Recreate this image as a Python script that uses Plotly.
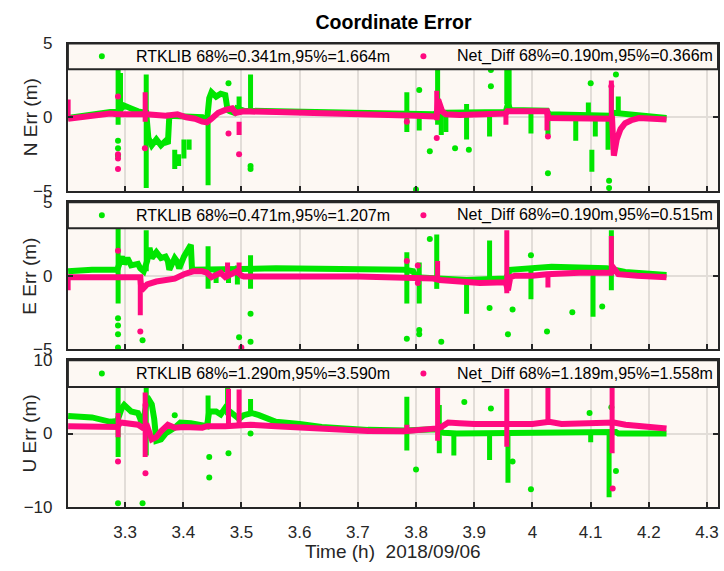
import plotly.graph_objects as go

# ---------------------------------------------------------------------------
# Data: time in hours (2018/09/06), errors in metres.
# Each solution has: a continuous track (t, value), vertical bursts of
# consecutive epochs (t, low, high) and isolated epochs (t, value).
# ---------------------------------------------------------------------------

# ================= North =================
n_rtk_t = [3.2021, 3.2431, 3.2747, 3.2880, 3.2984, 3.3103, 3.3221, 3.3363, 3.3400, 3.3458,
           3.3537, 3.3616, 3.3695, 3.3735, 3.3760, 3.4327, 3.4406, 3.4446, 3.4485, 3.4564,
           3.4643, 3.4722, 3.4761, 3.4800, 3.4880, 3.4919, 3.5038, 3.5600, 3.6400, 3.7200,
           3.7800, 3.8300, 3.8400, 3.8500, 3.9540, 3.9580, 3.9620, 4.0250, 4.0280, 4.1350,
           4.1400, 4.1900, 4.2305]
n_rtk_v = [-0.05, 0.20, 0.35, 0.35, 0.80, 0.60, 0.40, 0.30, -1.40, -1.90,
           -1.50, -1.90, -1.60, -1.80, 0.10, 0.00, -0.30, 1.30, 1.70, 1.40,
           1.60, 1.50, 0.50, 0.40, 0.30, 0.60, 0.45, 0.40, 0.35, 0.30,
           0.25, 0.20, 0.40, 0.30, 0.35, 0.90, 0.50, 0.45, 0.20, 0.10,
           0.30, 0.15, -0.05]
n_rtk_burst_t = [3.2880, 3.2921, 3.3363, 3.3853, 3.3920, 3.4011, 3.4100, 3.4426, 3.4959, 3.5156,
                 3.7842, 3.8055, 3.8371, 3.8434, 3.8513, 3.8869, 3.9264, 3.9560, 3.9600, 3.9975,
                 4.0267, 4.0745, 4.0962, 4.1022, 4.1081, 4.1300, 4.1357, 4.1476]
n_rtk_burst_lo = [-0.5, 0.3, -4.8, -3.5, -3.3, -2.8, -2.2, -4.6, 0.4, 0.45,
                  -1.0, -0.9, -0.5, -1.2, -1.0, -1.5, -1.3, 0.9, 0.5, -1.1,
                  -1.2, -1.6, -0.2, -3.7, -1.3, -2.2, 0.1, 0.3]
n_rtk_burst_hi = [4.0, 3.0, 2.9, -2.2, -2.5, -1.5, -1.5, -0.3, 1.4, 2.9,
                  1.7, 0.2, 4.0, 0.3, 0.3, 0.9, 0.3, 4.0, 3.5, 0.5,
                  0.45, 0.2, 1.0, -2.2, 0.1, 0.1, 2.0, 1.4]
n_rtk_dot_t = [3.2878, 3.2878, 3.2878, 3.4777, 3.5156, 3.5156, 3.8000, 3.8055, 3.8237,
               3.8671, 3.8908, 3.9287, 3.9287, 4.0267, 4.1002, 4.1318, 4.1318, 4.1436]
n_rtk_dot_v = [-1.6, -2.1, -2.6, 2.3, -3.3, -3.5, -4.9, 1.85, -2.3,
               -2.1, -2.2, 3.2, 2.1, -3.8, 2.3, -4.3, -4.8, 2.9]

n_net_t = [3.2021, 3.2431, 3.2747, 3.2866, 3.3100, 3.3340, 3.3370, 3.3695, 3.3900, 3.4050,
           3.4200, 3.4327, 3.4406, 3.4485, 3.4600, 3.4722, 3.4840, 3.4900, 3.5038, 3.5600,
           3.6400, 3.7200, 3.8000, 3.8356, 3.8380, 3.8450, 3.8513, 3.8750, 3.9200, 3.9540,
           3.9570, 4.0250, 4.0275, 4.0800, 4.1370, 4.1400, 4.1450, 4.1515, 4.1594, 4.1700,
           4.1831, 4.2305]
n_net_v = [-0.10, 0.10, 0.25, 0.20, 0.20, 0.30, 0.20, 0.10, 0.20, 0.00,
           -0.10, -0.30, -0.35, -0.10, 0.30, 0.50, 0.60, 0.30, 0.40, 0.35,
           0.30, 0.20, 0.10, 0.05, 1.20, 0.40, 0.20, 0.15, 0.20, 0.25,
           0.40, 0.40, -0.05, -0.05, -0.10, -2.60, -1.50, -0.80, -0.40, -0.20,
           -0.05, -0.15]
n_net_burst_t = [3.2021, 3.3345, 3.4959, 3.8356, 3.9545, 4.0251, 4.1357]
n_net_burst_lo = [-0.1, -0.3, -1.2, -0.2, -0.5, -0.9, -0.1]
n_net_burst_hi = [1.2, 1.7, -0.3, 1.8, 0.4, 0.4, 2.5]
n_net_dot_t = [3.2878, 3.2878, 3.2878, 3.2878, 3.3340, 3.4777, 3.4959,
               3.7842, 3.8356, 4.0267, 4.1357]
n_net_dot_v = [1.4, -2.5, -2.8, -3.5, -2.1, -1.1, -2.5,
               -0.3, -1.4, -1.3, 2.1]

# ================= East =================
e_rtk_t = [3.2021, 3.2431, 3.2866, 3.2945, 3.2984, 3.3040, 3.3103, 3.3221, 3.3261, 3.3320,
           3.3379, 3.3420, 3.3458, 3.3537, 3.3616, 3.3695, 3.3735, 3.3760, 3.3853, 3.3890,
           3.3930, 3.4011, 3.4130, 3.4150, 3.5591, 3.6381, 3.7171, 3.7803, 3.7950, 3.8000,
           3.8869, 3.9264, 3.9540, 3.9620, 3.9935, 4.0330, 4.1279, 4.1476, 4.1594, 4.2305]
e_rtk_v = [0.30, 0.40, 0.40, 1.30, 0.80, 1.20, 0.70, 0.80, 0.50, 0.30,
           1.00, 1.90, 1.20, 1.60, 1.20, 1.30, 1.00, 0.40, 1.20, 1.00,
           0.50, 1.30, 2.10, 0.40, 0.50, 0.50, 0.45, 0.40, 0.30, -0.10,
           -0.30, -0.20, -0.20, 0.40, 0.50, 0.60, 0.50, 0.30, 0.25, 0.05]
e_rtk_burst_t = [3.2880, 3.3363, 3.4426, 3.4564, 3.4777, 3.4930, 3.5156, 3.7842, 3.8055, 3.8356,
                 3.8869, 3.9264, 3.9975, 4.1042, 4.1357]
e_rtk_burst_lo = [-1.9, 0.3, -0.9, -0.5, -0.5, -0.6, -0.9, -1.9, -1.9, -0.9,
                  -2.6, -0.2, -1.6, -2.8, -1.0]
e_rtk_burst_hi = [3.2, 3.1, 2.0, 0.4, 0.6, 0.7, 1.4, 1.6, 0.9, 2.8,
                  -0.3, 2.4, 0.5, 0.5, 3.1]
e_rtk_dot_t = [3.2878, 3.2878, 3.2878, 3.2878, 3.3300, 3.4959, 3.5156, 3.5156, 3.7842,
               3.8055, 3.8055, 3.8237, 3.8434, 3.9264, 3.9580, 3.9659, 3.9975, 4.0251,
               4.0686, 4.1200]
e_rtk_dot_v = [-2.9, -3.4, -4.0, -4.9, -4.4, -4.2, -2.6, -4.5, -4.3,
               -3.7, -4.0, 2.5, -4.5, -2.2, -4.0, -2.3, 1.4, -3.8,
               -2.5, -2.1]

e_net_t = [3.2021, 3.2431, 3.2866, 3.3221, 3.3261, 3.3280, 3.3379, 3.3537, 3.3853, 3.4011,
           3.4169, 3.4327, 3.4406, 3.4485, 3.4643, 3.4722, 3.4800, 3.4919, 3.5000, 3.5038,
           3.7000, 3.7961, 3.8300, 3.8356, 3.8400, 3.8750, 3.9100, 3.9540, 3.9580, 3.9620,
           3.9700, 4.0000, 4.0251, 4.0800, 4.1357, 4.1397, 4.1476, 4.1800, 4.2305]
e_net_v = [-0.10, -0.10, -0.10, 0.00, -0.10, -1.00, -0.60, -0.40, -0.20, 0.10,
           0.30, 0.30, 0.20, -0.10, 0.20, -0.10, 0.10, 0.30, 0.00, -0.05,
           -0.05, -0.10, -0.20, -0.25, -0.30, -0.40, -0.50, -0.45, -1.00, -0.10,
           0.00, 0.00, 0.10, 0.20, 0.20, 0.50, 0.10, 0.00, -0.10]
e_net_burst_t = [3.2021, 3.3261, 3.4761, 3.4959, 3.8371, 3.9560, 4.0267, 4.1357]
e_net_burst_lo = [-1.0, -2.7, -0.1, 0.0, -0.3, -1.2, -0.8, 0.2]
e_net_burst_hi = [-0.1, -0.1, 0.9, 0.9, 1.0, 3.1, 0.1, 2.7]
e_net_dot_t = [3.2878, 3.3261, 3.4998, 3.7842, 3.8031, 3.8031]
e_net_dot_v = [1.7, -3.8, -4.9, 1.0, 0.7, -0.5]

# ================= Up =================
u_rtk_t = [3.2021, 3.2431, 3.2747, 3.2866, 3.2945, 3.2984, 3.3103, 3.3221, 3.3261, 3.3300,
           3.3379, 3.3458, 3.3500, 3.3537, 3.3616, 3.3695, 3.3853, 3.3950, 3.4130, 3.4327,
           3.4406, 3.4446, 3.4564, 3.4643, 3.4722, 3.4800, 3.4880, 3.4959, 3.5038, 3.5180,
           3.5300, 3.5591, 3.6000, 3.6381, 3.7171, 3.7803, 3.8356, 3.8473, 3.8700, 3.9700,
           4.0330, 4.1436, 4.1476, 4.2305]
u_rtk_v = [2.40, 2.20, 1.60, 1.70, 3.50, 3.90, 3.00, 2.80, 2.00, 0.80,
           5.00, 4.00, 2.00, -1.00, -0.80, 0.00, 0.80, 1.50, 1.40, 1.20,
           1.00, 3.00, 3.00, 2.60, 3.50, 3.00, 2.50, 2.00, 2.50, 2.80,
           2.50, 1.60, 1.30, 0.90, 0.50, 0.40, 0.60, 0.10, 0.00, 0.10,
           0.20, 0.20, 0.00, 0.00]
u_rtk_burst_t = [3.2880, 3.3363, 3.4426, 3.4761, 3.5156, 3.7842, 3.8400, 3.8650, 3.9264, 3.9580,
                 4.1002, 4.1318]
u_rtk_burst_lo = [-3.2, -3.0, 1.0, 2.5, 2.5, -2.3, -2.7, -3.0, -3.6, -6.7,
                  -1.2, -8.7]
u_rtk_burst_hi = [6.5, 6.5, 5.2, 6.5, 4.7, 5.0, 3.9, 0.0, 0.0, 0.0,
                  0.2, 0.2]
u_rtk_dot_t = [3.2878, 3.3300, 3.3853, 3.4446, 3.4446, 3.4777, 3.5156, 3.8000, 3.8830,
               3.9287, 3.9659, 3.9975, 4.0982, 4.1357, 4.1436]
u_rtk_dot_v = [-9.5, -9.5, 2.5, -3.2, -6.0, -2.7, 0.0, -4.9, 4.3,
               3.4, -3.8, -7.6, 2.8, 3.6, -5.1]

u_net_t = [3.2021, 3.2431, 3.2747, 3.2866, 3.2921, 3.3103, 3.3221, 3.3300, 3.3379, 3.3458,
           3.3537, 3.3616, 3.3735, 3.3853, 3.4011, 3.4327, 3.4406, 3.4722, 3.4959, 3.5156,
           3.5591, 3.6381, 3.7171, 3.7803, 3.8300, 3.8356, 3.8434, 3.8553, 3.8750, 3.9000,
           4.0000, 4.0290, 4.0500, 4.1279, 4.1400, 4.1600, 4.2000, 4.2305]
u_net_v = [1.00, 0.90, 0.80, 0.90, 1.50, 1.30, 1.20, 0.80, 1.00, -0.80,
           -0.50, 0.30, 1.20, 0.80, 0.90, 0.80, 1.00, 1.00, 1.10, 1.20,
           1.00, 0.60, 0.35, 0.30, 0.60, 0.70, 0.90, 1.50, 1.40, 1.30,
           1.30, 1.60, 1.30, 1.30, 1.50, 1.20, 0.90, 0.70]
u_net_burst_t = [3.2880, 3.3345, 3.4777, 3.4959, 3.7842, 3.8371, 3.9560, 4.0267, 4.1370]
u_net_burst_lo = [-0.5, -3.2, 1.0, 1.1, 0.3, -1.0, -1.8, 1.3, -2.7]
u_net_burst_hi = [2.8, 5.6, 6.1, 6.0, 1.2, 8.0, 6.1, 7.0, 7.0]
u_net_dot_t = [3.2878, 3.3350, 3.3350, 4.1380]
u_net_dot_v = [-3.8, 3.9, -5.4, -7.5]

# Legend texts (accuracy statistics)
rtk_labels = ["RTKLIB 68%=0.341m,95%=1.664m",
              "RTKLIB 68%=0.471m,95%=1.207m",
              "RTKLIB 68%=1.290m,95%=3.590m"]
net_labels = ["Net_Diff 68%=0.190m,95%=0.366m",
              "Net_Diff 68%=0.190m,95%=0.515m",
              "Net_Diff 68%=1.189m,95%=1.558m"]
y_titles = ["N Err (m)", "E Err (m)", "U Err (m)"]
y_ticks = [[-5, 0, 5], [-5, 0, 5], [-10, 0, 10]]
y_ranges = [[-5, 5], [-5, 5], [-10, 10]]
x_ticks = [3.3, 3.4, 3.5, 3.6, 3.7, 3.8, 3.9, 4.0, 4.1, 4.2, 4.3]
x_tick_text = ["3.3", "3.4", "3.5", "3.6", "3.7", "3.8", "3.9", "4", "4.1", "4.2", "4.3"]

# ---------------------------------------------------------------------------
W, H = 724, 571
GREEN = "#00e600"
PINK = "#ff0a80"
BG = "#fdf8f3"
INK = "#262626"
GRID = "#e2ddd8"
FONT = "Liberation Sans, Arial, Helvetica, sans-serif"
BAND_W = 6

X_LEFT, X_RIGHT = 68, 719                                   # axes box, pixels
PANELS = [(35.7, 188.3), (200.0, 351.7), (363.3, 515.0)]    # (top, bottom), pixels
LEG_H = [26.6, 26.7, 27.7]


def px_x(p):
    return p / W


def px_y(p):
    return 1 - p / H


def bursts(ts, lo, hi):
    """Vertical runs of consecutive epochs as separated segments."""
    xs, ys = [], []
    for t, a, b in zip(ts, lo, hi):
        xs += [t, t, None]
        ys += [a, b, None]
    return xs, ys


series = [
    ((n_rtk_t, n_rtk_v, n_rtk_burst_t, n_rtk_burst_lo, n_rtk_burst_hi, n_rtk_dot_t, n_rtk_dot_v),
     (n_net_t, n_net_v, n_net_burst_t, n_net_burst_lo, n_net_burst_hi, n_net_dot_t, n_net_dot_v)),
    ((e_rtk_t, e_rtk_v, e_rtk_burst_t, e_rtk_burst_lo, e_rtk_burst_hi, e_rtk_dot_t, e_rtk_dot_v),
     (e_net_t, e_net_v, e_net_burst_t, e_net_burst_lo, e_net_burst_hi, e_net_dot_t, e_net_dot_v)),
    ((u_rtk_t, u_rtk_v, u_rtk_burst_t, u_rtk_burst_lo, u_rtk_burst_hi, u_rtk_dot_t, u_rtk_dot_v),
     (u_net_t, u_net_v, u_net_burst_t, u_net_burst_lo, u_net_burst_hi, u_net_dot_t, u_net_dot_v)),
]

fig = go.Figure()
shapes = []
annotations = []

for i, panel in enumerate(series):
    xa = "x" if i == 0 else f"x{i + 1}"
    ya = "y" if i == 0 else f"y{i + 1}"
    common = dict(xaxis=xa, yaxis=ya, showlegend=False, hoverinfo="skip")
    for (tt, vv, bt, blo, bhi, dt, dv), col in zip(panel, (GREEN, PINK)):
        bx, by = bursts(bt, blo, bhi)
        fig.add_trace(go.Scatter(x=tt, y=vv, mode="lines",
                                 line=dict(color=col, width=BAND_W), **common))
        fig.add_trace(go.Scatter(x=bx, y=by, mode="lines", connectgaps=False,
                                 line=dict(color=col, width=BAND_W - 1), **common))
        fig.add_trace(go.Scatter(x=dt, y=dv, mode="markers",
                                 marker=dict(color=col, size=6, line=dict(width=0)), **common))

    top, bot = PANELS[i]
    axis_common = dict(ticks="inside", ticklen=5, tickwidth=1.5, tickcolor=INK,
                       showline=True, linecolor=INK, linewidth=2, mirror="ticks",
                       showgrid=True, gridcolor=GRID, gridwidth=1.5, zeroline=False,
                       tickfont=dict(family=FONT, size=17, color=INK))
    xaxis = dict(domain=[px_x(X_LEFT), px_x(X_RIGHT)], anchor=ya, range=[3.2017, 4.319],
                 tickvals=x_ticks, ticktext=x_tick_text, showticklabels=(i == 2),
                 ticklabelstandoff=9, **axis_common)
    yaxis = dict(domain=[px_y(bot), px_y(top)], anchor=xa, range=y_ranges[i],
                 tickvals=y_ticks[i], ticklabelstandoff=10, **axis_common)
    fig.update_layout(**{("xaxis" if i == 0 else f"xaxis{i + 1}"): xaxis,
                         ("yaxis" if i == 0 else f"yaxis{i + 1}"): yaxis})

    # legend box along the top of each panel
    lb = top + LEG_H[i]
    shapes.append(dict(type="rect", xref="paper", yref="paper", layer="above",
                       x0=px_x(X_LEFT), x1=px_x(X_RIGHT), y0=px_y(lb), y1=px_y(top),
                       fillcolor=BG, line=dict(color=INK, width=2)))
    yc = px_y(top + LEG_H[i] / 2)
    for xc, col in ((102, GREEN), (424, PINK)):
        shapes.append(dict(type="circle", xref="paper", yref="paper", layer="above",
                           xsizemode="pixel", ysizemode="pixel",
                           xanchor=px_x(xc), yanchor=yc, x0=-3, x1=3, y0=-3, y1=3,
                           fillcolor=col, line=dict(width=0)))
    for txt, xl in ((rtk_labels[i], 134), (net_labels[i], 456)):
        annotations.append(dict(text=txt, x=px_x(xl), y=yc, xref="paper", yref="paper",
                                xanchor="left", yanchor="middle", showarrow=False,
                                font=dict(family=FONT, size=16, color="#000000")))
    annotations.append(dict(text=y_titles[i], x=px_x(30), y=px_y((top + bot) / 2),
                            xref="paper", yref="paper", textangle=-90,
                            xanchor="center", yanchor="middle", showarrow=False,
                            font=dict(family=FONT, size=19, color=INK)))

annotations.append(dict(text="Time (h)  2018/09/06", x=px_x((X_LEFT + X_RIGHT) / 2), y=px_y(561),
                        xref="paper", yref="paper", xanchor="center", yanchor="middle",
                        showarrow=False, font=dict(family=FONT, size=19, color=INK)))

fig.update_layout(
    width=W, height=H, margin=dict(l=0, r=0, t=0, b=0),
    paper_bgcolor="#ffffff", plot_bgcolor=BG,
    title=dict(text="<b>Coordinate Error</b>", x=px_x((X_LEFT + X_RIGHT) / 2), xanchor="center",
               y=px_y(22), yanchor="middle", font=dict(family=FONT, size=19.5, color="#000000")),
    shapes=shapes, annotations=annotations, showlegend=False,
)

fig.write_html("out.html")
